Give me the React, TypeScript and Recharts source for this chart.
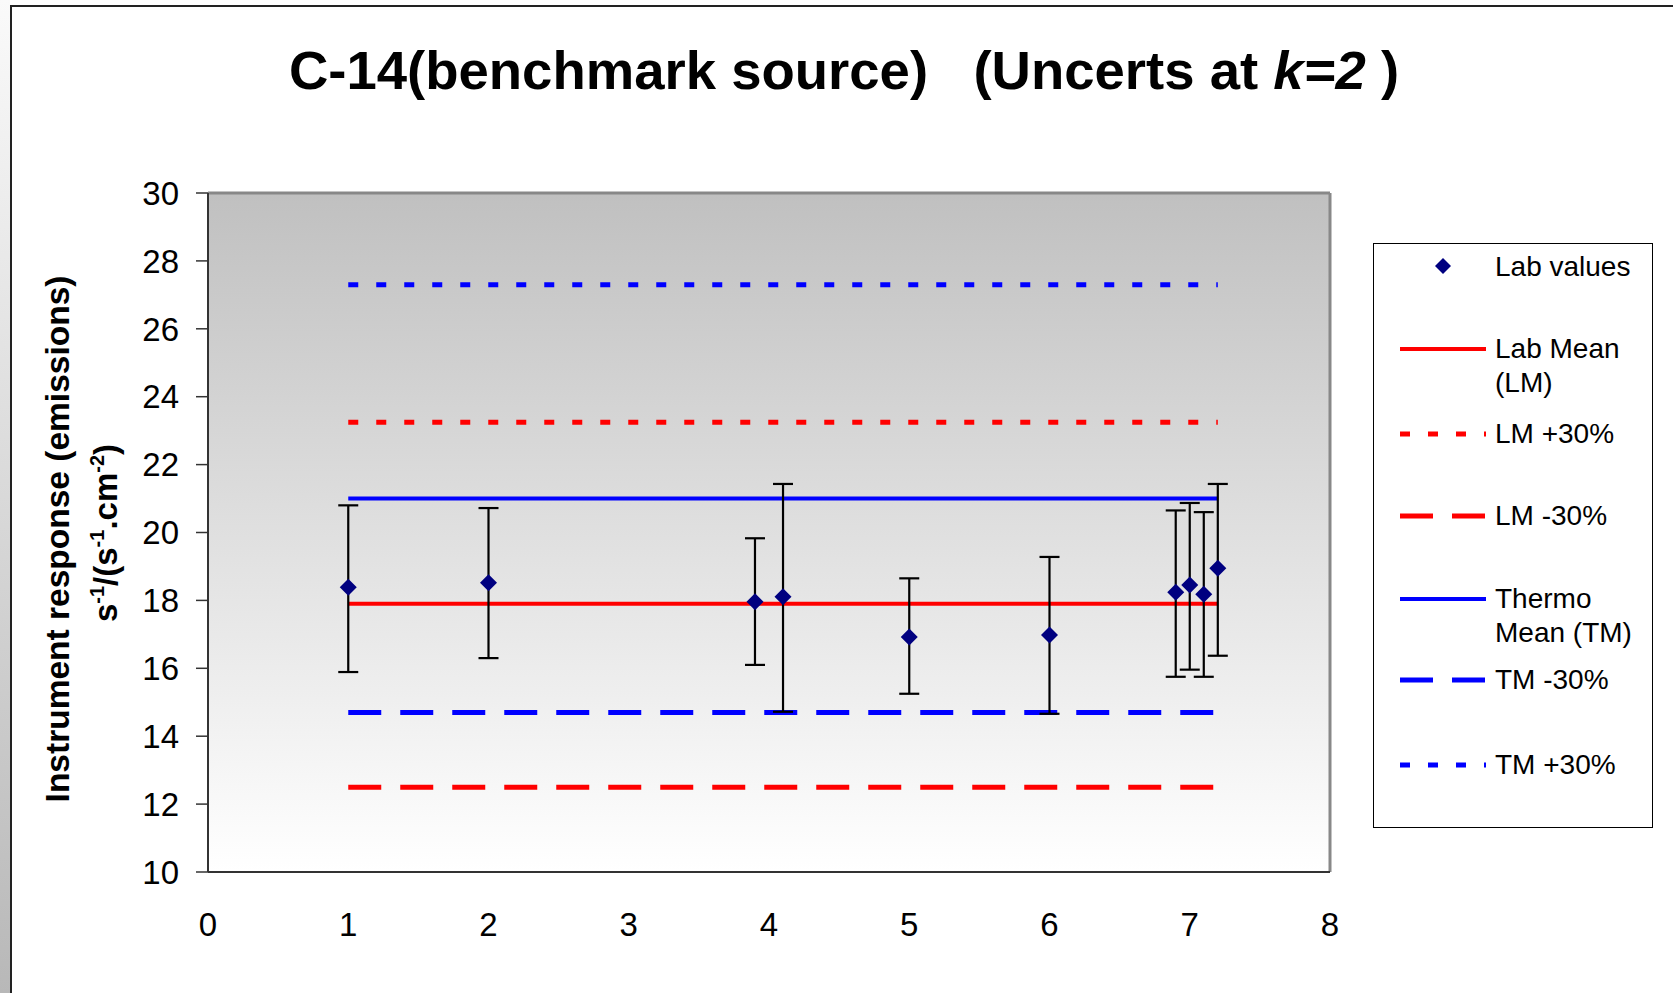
import { ComposedChart, Line, Scatter, ErrorBar, XAxis, YAxis, CartesianGrid, ReferenceLine } from 'recharts'

// lab results (x position, value, upper / lower uncertainty limits at k=2)
const labX = [1, 2, 3.9, 4.1, 5, 6, 6.9, 7.0, 7.1, 7.2]
const labValues = [18.39, 18.52, 17.96, 18.11, 16.92, 16.98, 18.24, 18.45, 18.18, 18.95]
const labUpper = [20.8, 20.72, 19.83, 21.43, 18.65, 19.28, 20.65, 20.87, 20.6, 21.43]
const labLower = [15.89, 16.3, 16.1, 14.72, 15.25, 14.66, 15.75, 15.96, 15.75, 16.37]

// horizontal reference lines
const lineKeys = ['lm', 'lmPlus', 'lmMinus', 'tm', 'tmMinus', 'tmPlus']
const lineLabels = [['Lab Mean', '(LM)'], ['LM +30%'], ['LM -30%'], ['Thermo', 'Mean (TM)'], ['TM -30%'], ['TM +30%']]
const lineLevels = [17.9, 23.25, 12.5, 21.0, 14.7, 27.3]
const lineSpan = [1, 7.2]

const xTicks = [0, 1, 2, 3, 4, 5, 6, 7, 8]
const yTicks = [10, 12, 14, 16, 18, 20, 22, 24, 26, 28, 30]

const RED = '#ff0000'
const BLUE = '#0000ff'
const NAVY = '#000080'
const DOTTED = '10 18'
const DASHED = '33 19'

const LINE_STYLES: Record<string, { stroke: string; width: number; dash?: string }> = {
  lm: { stroke: RED, width: 4 },
  lmPlus: { stroke: RED, width: 5, dash: DOTTED },
  lmMinus: { stroke: RED, width: 5, dash: DASHED },
  tm: { stroke: BLUE, width: 4 },
  tmMinus: { stroke: BLUE, width: 5, dash: DASHED },
  tmPlus: { stroke: BLUE, width: 5, dash: DOTTED },
}

// legend row centres (px)
const LEGEND_ROWS = [349, 434, 516, 599, 680, 765]

const labData = labX.map((x, i) => ({
  x,
  y: labValues[i],
  err: [labValues[i] - labLower[i], labUpper[i] - labValues[i]],
}))

const lineData = lineKeys.map((_, i) => lineSpan.map((x) => ({ x, y: lineLevels[i] })))

function Diamond(props: any) {
  const { cx, cy } = props
  if (cx == null || cy == null) return null
  const r = 8.5
  return <polygon points={`${cx},${cy - r} ${cx + r},${cy} ${cx},${cy + r} ${cx - r},${cy}`} fill={NAVY} />
}

function Overlay() {
  return (
    <svg width={1673} height={993} style={{ position: 'absolute', left: 0, top: 0, pointerEvents: 'none' }}>
      <text x={844} y={89} textAnchor="middle" fontSize={54.5} fontWeight="bold" fill="#000" xmlSpace="preserve" style={{ whiteSpace: 'pre' }}>
        {'C-14(benchmark source)   (Uncerts at '}
        <tspan fontStyle="italic">k=2</tspan>
        {' )'}
      </text>

      <text x={69} y={539} transform="rotate(-90 69 539)" textAnchor="middle" fontSize={33.5} fontWeight="bold" fill="#000">
        Instrument response (emissions)
      </text>
      <text x={117} y={533} transform="rotate(-90 117 533)" textAnchor="middle" fontSize={33} fontWeight="bold" fill="#000">
        <tspan>s</tspan>
        <tspan dy={-13} fontSize={20}>-1</tspan>
        <tspan dy={13}>/(s</tspan>
        <tspan dy={-13} fontSize={20}>-1</tspan>
        <tspan dy={13}>.cm</tspan>
        <tspan dy={-13} fontSize={20}>-2</tspan>
        <tspan dy={13}>)</tspan>
      </text>

      <rect x={1373.5} y={243.5} width={279} height={584} fill="#fff" stroke="#000" strokeWidth={1} />
      <polygon points="1443,258 1451,266 1443,274 1435,266" fill={NAVY} />
      <text x={1495} y={266} fontSize={28} dominantBaseline="central" fill="#000">
        Lab values
      </text>
      {lineKeys.map((k, i) => {
        const s = LINE_STYLES[k]
        const cy = LEGEND_ROWS[i]
        const labels = lineLabels[i]
        return (
          <g key={k}>
            <line x1={1400} x2={1486} y1={cy} y2={cy} stroke={s.stroke} strokeWidth={s.width} strokeDasharray={s.dash} />
            {labels.map((t, j) => (
              <text key={j} x={1495} y={cy - 1 + j * 34} fontSize={28} dominantBaseline="central" fill="#000">
                {t}
              </text>
            ))}
          </g>
        )
      })}
    </svg>
  )
}

export default function App() {
  return (
    <div
      style={{
        position: 'relative',
        width: 1673,
        height: 993,
        background: '#fff',
        overflow: 'hidden',
        fontFamily: '"Liberation Sans", Arial, sans-serif',
      }}
    >
      <style>{'body{margin:0}'}</style>
      <div style={{ position: 'absolute', left: 0, top: 0, width: 10, height: 993, background: 'linear-gradient(#fafafa, #b8b8b8)' }} />
      <div
        style={{
          position: 'absolute',
          left: 10,
          top: 5,
          width: 1663,
          height: 988,
          borderLeft: '2px solid #222',
          borderTop: '2px solid #222',
        }}
      />
      <div style={{ position: 'absolute', left: 0, top: 0 }}>
        <ComposedChart width={1673} height={993} margin={{ top: 193, right: 343, bottom: 61, left: 0 }}>
          <defs>
            <linearGradient id="plotBg" x1="0" y1="0" x2="0" y2="1">
              <stop offset="0" stopColor="#c0c0c0" />
              <stop offset="1" stopColor="#ffffff" />
            </linearGradient>
          </defs>
          <CartesianGrid horizontal={false} vertical={false} fill="url(#plotBg)" />
          <XAxis
            type="number"
            dataKey="x"
            domain={[0, 8]}
            ticks={xTicks}
            allowDataOverflow
            height={60}
            tickLine={false}
            tickSize={0}
            tickMargin={41}
            axisLine={{ stroke: '#333', strokeWidth: 2 }}
            tick={{ fill: '#000', fontSize: 33 }}
          />
          <YAxis
            type="number"
            domain={[10, 30]}
            ticks={yTicks}
            allowDataOverflow
            width={208}
            tickSize={12}
            tickMargin={17}
            axisLine={{ stroke: '#333', strokeWidth: 2 }}
            tickLine={{ stroke: '#333', strokeWidth: 1.5 }}
            tick={{ fill: '#000', fontSize: 33 }}
          />
          <ReferenceLine y={30} stroke="#888" strokeWidth={3} />
          <ReferenceLine x={8} stroke="#888" strokeWidth={3} />
          {lineKeys.map((k, i) => {
            const s = LINE_STYLES[k]
            return (
              <Line
                key={k}
                data={lineData[i]}
                dataKey="y"
                type="linear"
                stroke={s.stroke}
                strokeWidth={s.width}
                strokeDasharray={s.dash}
                dot={false}
                activeDot={false}
                isAnimationActive={false}
              />
            )
          })}
          <Scatter data={labData} dataKey="y" shape={Diamond} isAnimationActive={false}>
            <ErrorBar dataKey="err" direction="y" width={10} stroke="#000" strokeWidth={2.2} isAnimationActive={false} />
          </Scatter>
        </ComposedChart>
      </div>
      <Overlay />
    </div>
  )
}
